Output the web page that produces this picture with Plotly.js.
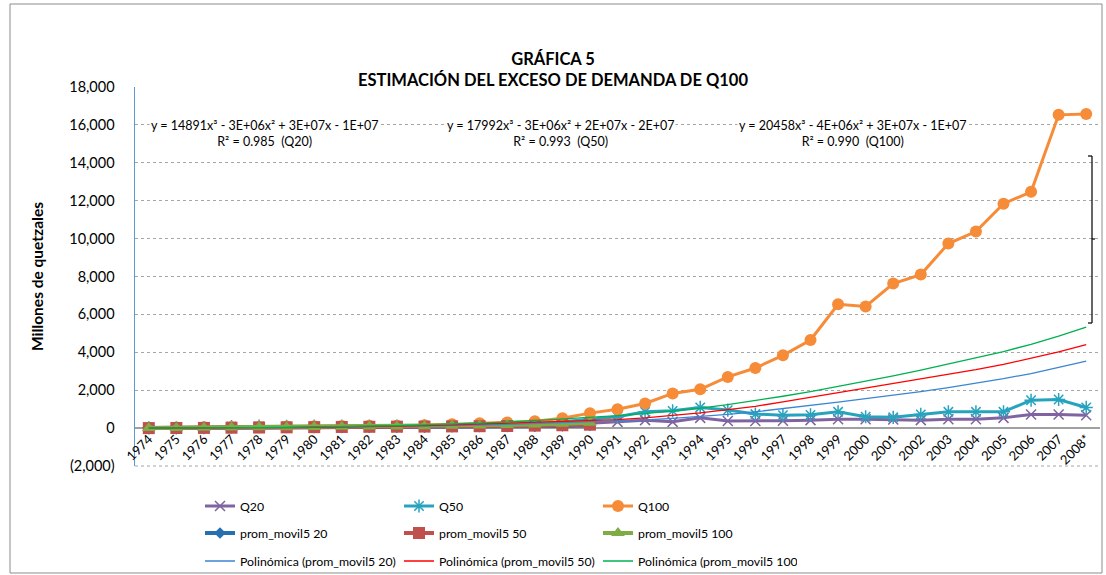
<!DOCTYPE html>
<html>
<head>
<meta charset="utf-8">
<script src="https://cdn.plot.ly/plotly-3.0.1.min.js"></script>
<style>
html,body{margin:0;padding:0;background:#fff;}
#chart{width:1106px;height:575px;}
</style>
</head>
<body>
<div id="chart"></div>
<script>
// ---- Data ----
const years = ["1974","1975","1976","1977","1978","1979","1980","1981","1982","1983","1984","1985","1986","1987","1988","1989","1990","1991","1992","1993","1994","1995","1996","1997","1998","1999","2000","2001","2002","2003","2004","2005","2006","2007","2008*"];

const q20 = [5,5,10,20,30,30,40,40,50,50,60,70,80,100,120,180,250,330,420,330,540,370,370,390,420,470,470,450,420,470,470,540,720,720,680];
const q50 = [10,15,20,80,100,90,100,100,110,110,120,140,160,190,230,330,480,600,860,910,1090,950,740,680,700,860,600,570,720,860,860,860,1470,1510,1090];
const q100 = [20,30,40,60,70,80,100,110,120,130,150,200,260,300,360,520,790,1000,1300,1830,2050,2700,3170,3840,4650,6530,6420,7630,8100,9740,10370,11840,12470,16530,16580];

const promMovil20 = [0,5,10,15,20,25,30,35,40,45,50,60,70,80,90,110,140,null,null,null,null,null,null,null,null,null,null,null,null,null,null,null,null,null,null];
const promMovil50 = [0,5,10,20,30,40,50,60,70,75,80,90,100,110,130,150,180,null,null,null,null,null,null,null,null,null,null,null,null,null,null,null,null,null,null];
const promMovil100 = [0,10,20,30,40,50,60,70,80,90,100,120,140,160,190,230,280,null,null,null,null,null,null,null,null,null,null,null,null,null,null,null,null,null,null];

const poliProm20 = [0,0,5,10,15,25,35,50,65,85,105,130,160,195,235,280,330,380,430,510,600,720,860,1020,1190,1370,1560,1740,1930,2140,2360,2610,2880,3190,3540];
const poliProm50 = [0,0,5,10,20,30,45,60,80,105,135,170,210,255,300,340,380,450,540,660,800,970,1150,1380,1620,1860,2100,2330,2570,2820,3080,3360,3670,4020,4400];
const poliProm100 = [0,0,5,15,25,40,55,75,100,130,170,210,260,320,390,470,560,660,760,900,1050,1240,1450,1680,1930,2200,2480,2760,3060,3380,3700,4040,4420,4850,5330];

const yTickVals = [-2000,0,2000,4000,6000,8000,10000,12000,14000,16000,18000];
const yTickText = ["(2,000)","0","2,000","4,000","6,000","8,000","10,000","12,000","14,000","16,000","18,000"];

const seriesNames = ["Q20","Q50","Q100","prom_movil5 20","prom_movil5 50","prom_movil5 100",
  "Polinómica (prom_movil5 20)","Polinómica (prom_movil5 50)","Polinómica (prom_movil5 100)"];

const eqTexts = [
  "y = 14891x³ - 3E+06x² + 3E+07x - 1E+07<br>R² = 0.985  (Q20)",
  "y = 17992x³ - 3E+06x² + 2E+07x - 2E+07<br>R² = 0.993  (Q50)",
  "y = 20458x³ - 4E+06x² + 3E+07x - 1E+07<br>R² = 0.990  (Q100)"
];

// ---- Styling ----
const FONT = "Lato, 'Open Sans', sans-serif";
const C = {
  q20:"#8064A2", q50:"#27A3BE", q100:"#F68B38",
  p20:"#2670B0", p50:"#C0504D", p100:"#7FAC45",
  l20:"#3A86D2", l50:"#FF0000", l100:"#00B050"
};

const traces = [
  {x:years, y:q20, name:seriesNames[0], mode:"lines+markers", legend:"legend",
   line:{color:C.q20, width:3}, marker:{symbol:"x-thin-open", size:10, line:{color:C.q20, width:1.5}, color:C.q20}},
  {x:years, y:q50, name:seriesNames[1], mode:"lines+markers", legend:"legend",
   line:{color:C.q50, width:3}, marker:{symbol:"asterisk-open", size:11, line:{color:C.q50, width:1.5}, color:C.q50}},
  {x:years, y:q100, name:seriesNames[2], mode:"lines+markers", legend:"legend",
   line:{color:C.q100, width:3}, marker:{symbol:"circle", size:12, color:C.q100}},
  {x:years, y:promMovil20, name:seriesNames[3], mode:"lines+markers", legend:"legend2",
   line:{color:C.p20, width:4}, marker:{symbol:"diamond", size:9, color:C.p20}},
  {x:years, y:promMovil50, name:seriesNames[4], mode:"lines+markers", legend:"legend2",
   line:{color:C.p50, width:4}, marker:{symbol:"square", size:12, color:C.p50}},
  {x:years, y:promMovil100, name:seriesNames[5], mode:"lines+markers", legend:"legend2",
   line:{color:C.p100, width:4}, marker:{symbol:"triangle-up", size:12, color:C.p100}},
  {x:years, y:poliProm20, name:seriesNames[6], mode:"lines", legend:"legend3",
   line:{color:C.l20, width:1.3}},
  {x:years, y:poliProm50, name:seriesNames[7], mode:"lines", legend:"legend3",
   line:{color:C.l50, width:1.3}},
  {x:years, y:poliProm100, name:seriesNames[8], mode:"lines", legend:"legend3",
   line:{color:C.l100, width:1.3}}
];

const W = 1106, H = 575;
const mL = 135, mR = 6, mT = 87, mB = 109;
const pw = W - mL - mR, ph = H - mT - mB;
const px = v => (v - mL) / pw;          // page x -> paper x
const py = v => (H - mB - v) / ph;      // page y -> paper y

const legendBase = {orientation:"h", xanchor:"left", yanchor:"middle", x:px(200),
  entrywidth:154, entrywidthmode:"pixels", bgcolor:"rgba(0,0,0,0)",
  font:{family:FONT, size:12.3, color:"#000"}, itemclick:false, itemdoubleclick:false};

const eqFont = {family:FONT, size:12.5, color:"#000"};

const layout = {
  width:W, height:H,
  margin:{l:mL, r:mR, t:mT, b:mB, autoexpand:false},
  paper_bgcolor:"#fff", plot_bgcolor:"#fff",
  font:{family:FONT, color:"#000"},
  title:{text:"GRÁFICA 5<br>ESTIMACIÓN DEL EXCESO DE DEMANDA DE Q100",
    font:{family:FONT, size:16.5, weight:"bold", color:"#000"},
    x:0.5, xref:"container", y:1-65/H, yref:"container", yanchor:"top"},
  xaxis:{type:"category", range:[-0.5, years.length-0.5], anchor:"free", position:0.1,
    showline:false, showgrid:false, zeroline:false, ticks:"", tickangle:-45,
    tickfont:{family:FONT, size:13, color:"#000"}, fixedrange:true},
  yaxis:{range:[-2000,18000], tickvals:yTickVals, ticktext:yTickText,
    showgrid:true, gridcolor:"#a6a6a6", griddash:"dot", gridwidth:1,
    zeroline:true, zerolinecolor:"#a0a0a0", zerolinewidth:1.5,
    showline:true, linecolor:"#5B9BD5", linewidth:1.5, ticks:"",
    ticklabelstandoff:16,
    tickfont:{family:FONT, size:14.5, color:"#000"},
    title:{text:"Millones de quetzales", font:{family:FONT, size:15.5, weight:"bold", color:"#000"}, standoff:22},
    fixedrange:true},
  showlegend:true,
  legend:Object.assign({}, legendBase, {y:py(506)}),
  legend2:Object.assign({}, legendBase, {y:py(533)}),
  legend3:Object.assign({}, legendBase, {y:py(561)}),
  annotations:[
    {text:eqTexts[0], xref:"paper", yref:"paper", x:px(264), y:py(133), xanchor:"center", yanchor:"middle",
     showarrow:false, font:eqFont, bgcolor:"#fff", borderpad:1},
    {text:eqTexts[1], xref:"paper", yref:"paper", x:px(560), y:py(133), xanchor:"center", yanchor:"middle",
     showarrow:false, font:eqFont, bgcolor:"#fff", borderpad:1},
    {text:eqTexts[2], xref:"paper", yref:"paper", x:px(852), y:py(133), xanchor:"center", yanchor:"middle",
     showarrow:false, font:eqFont, bgcolor:"#fff", borderpad:1}
  ],
  shapes:[
    // outer chart border
    {type:"rect", xref:"paper", yref:"paper", x0:px(10), x1:px(1102), y0:py(573), y1:py(4),
     line:{color:"#8c8c8c", width:1}, fillcolor:"rgba(0,0,0,0)", layer:"below"},
    // bottom dotted gridline at the axis minimum
    {type:"line", xref:"paper", yref:"paper", x0:0, x1:1, y0:0, y1:0,
     line:{color:"#a6a6a6", width:1, dash:"dot"}, layer:"below"},
    // bracket on the right
    {type:"line", xref:"paper", yref:"paper", x0:px(1092), x1:px(1092), y0:py(156), y1:py(323), line:{color:"#000", width:1.2}},
    {type:"line", xref:"paper", yref:"paper", x0:px(1088), x1:px(1092), y0:py(156), y1:py(156), line:{color:"#000", width:1.2}},
    {type:"line", xref:"paper", yref:"paper", x0:px(1088), x1:px(1092), y0:py(323), y1:py(323), line:{color:"#000", width:1.2}},
    {type:"line", xref:"paper", yref:"paper", x0:px(1092), x1:px(1095), y0:py(239), y1:py(239), line:{color:"#000", width:1.2}}
  ]
};

Plotly.newPlot("chart", traces, layout, {displayModeBar:false, staticPlot:true});
</script>
</body>
</html>
